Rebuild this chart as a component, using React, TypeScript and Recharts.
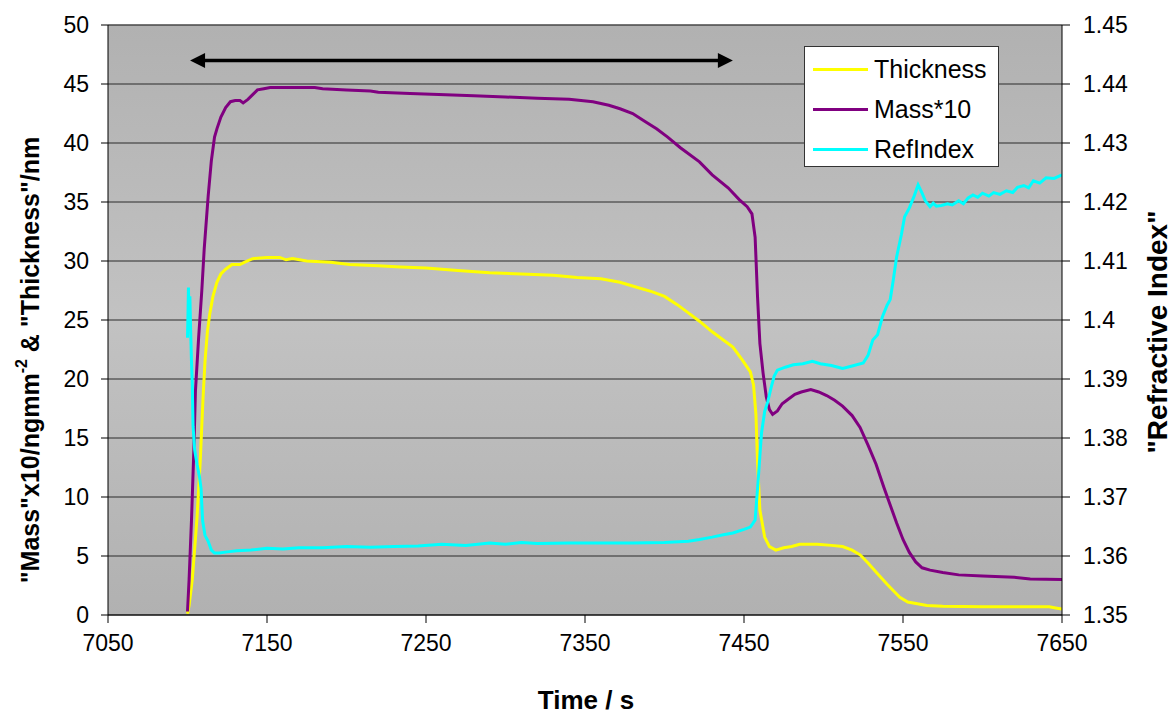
import React from 'react';
import {
  ComposedChart, Line, XAxis, YAxis, CartesianGrid, ReferenceLine,
} from 'recharts';

const FONT = "'Liberation Sans', Arial, sans-serif";

const massTime = [7100, 7101, 7102.5, 7104, 7105, 7107, 7109, 7110.5, 7113, 7115, 7117, 7118.5, 7121, 7124, 7127, 7130, 7133, 7135, 7138, 7141, 7144, 7148, 7152, 7180, 7185, 7200, 7215, 7220, 7240, 7258, 7280, 7300, 7320, 7340, 7355, 7365, 7372, 7380, 7388, 7395, 7402, 7410, 7422, 7430, 7440, 7447, 7452, 7455, 7457, 7458.5, 7460, 7462, 7464, 7466, 7468, 7471, 7474, 7478, 7482, 7486, 7492, 7497, 7502, 7507, 7512, 7518, 7523, 7528, 7533, 7538, 7542, 7546, 7550, 7554, 7558, 7562, 7567, 7575, 7585, 7600, 7620, 7630, 7650];
const massValues = [0.3, 3, 8, 14, 19, 23.5, 27.5, 31, 35.5, 38.5, 40.5, 41.2, 42.2, 43.0, 43.5, 43.6, 43.6, 43.4, 43.7, 44.1, 44.5, 44.6, 44.7, 44.7, 44.6, 44.5, 44.4, 44.3, 44.2, 44.1, 44.0, 43.9, 43.8, 43.7, 43.5, 43.2, 42.9, 42.5, 41.8, 41.2, 40.5, 39.6, 38.4, 37.3, 36.2, 35.2, 34.6, 34.0, 32, 27, 23, 20.5, 18.5, 17.4, 17.0, 17.3, 17.9, 18.3, 18.7, 18.9, 19.1, 18.9, 18.6, 18.2, 17.7, 16.9, 15.9, 14.4, 12.8, 10.8, 9.3, 7.8, 6.4, 5.3, 4.5, 4.0, 3.8, 3.6, 3.4, 3.3, 3.2, 3.05, 3.0];

const thickTime = [7100, 7101, 7103, 7105, 7106, 7108, 7109.7, 7111, 7112.5, 7114, 7116, 7118.5, 7121, 7124, 7128, 7133, 7136, 7141, 7150, 7158, 7162, 7166, 7175, 7190, 7202, 7220, 7234, 7250, 7270, 7290, 7310, 7330, 7345, 7360, 7372, 7382, 7392, 7400, 7408, 7415, 7422, 7430, 7437, 7443, 7449, 7454, 7456, 7457.5, 7458.5, 7460, 7463, 7466, 7470, 7475, 7480, 7485, 7496, 7505, 7512, 7518, 7523, 7528, 7534, 7540, 7548, 7553, 7559, 7565, 7575, 7600, 7642, 7646, 7650];
const thickValues = [0.1, 0.8, 3, 6.5, 8.3, 13, 18.2, 21.5, 24, 25.5, 27, 28.2, 28.9, 29.3, 29.7, 29.7, 29.9, 30.2, 30.3, 30.3, 30.1, 30.2, 30.0, 29.9, 29.7, 29.6, 29.5, 29.4, 29.2, 29.0, 28.9, 28.8, 28.6, 28.5, 28.2, 27.8, 27.4, 27.0, 26.3, 25.6, 24.9, 24.0, 23.3, 22.7, 21.6, 20.6, 19.5, 17, 13, 8.9, 6.6, 5.8, 5.5, 5.7, 5.8, 6.0, 6.0, 5.9, 5.8, 5.5, 5.1, 4.4, 3.5, 2.6, 1.5, 1.1, 0.95, 0.8, 0.75, 0.7, 0.7, 0.6, 0.5];

const refTime = [7100, 7100.3, 7100.6, 7101, 7101.5, 7102, 7102.5, 7103, 7103.5, 7104.5, 7106, 7107.5, 7108.5, 7109.5, 7111, 7113, 7115, 7117, 7120, 7125, 7131, 7140, 7150, 7160, 7170, 7185, 7200, 7215, 7230, 7245, 7260, 7275, 7290, 7300, 7310, 7320, 7340, 7360, 7380, 7400, 7415, 7422, 7430, 7437, 7443, 7450, 7454, 7457, 7458.8, 7460, 7461, 7463, 7465, 7467, 7469, 7471, 7476, 7481, 7487, 7493, 7498, 7505, 7512, 7518, 7525, 7528, 7531, 7534, 7537, 7540, 7542, 7544, 7546, 7549, 7551, 7554, 7557, 7559.5, 7562, 7564, 7567, 7569, 7571, 7574, 7578, 7581, 7585, 7588, 7591, 7594, 7597, 7600, 7604, 7607, 7611, 7615, 7619, 7622, 7626, 7629, 7632, 7636, 7640, 7645, 7650];
const refValues = [1.397, 1.401, 1.4055, 1.399, 1.404, 1.398, 1.393, 1.389, 1.382, 1.378, 1.3755, 1.3735, 1.3715, 1.366, 1.3635, 1.3625, 1.361, 1.3605, 1.3605, 1.3607, 1.3609, 1.361, 1.3613, 1.3612, 1.3614, 1.3614, 1.3616, 1.3615, 1.3616, 1.3617, 1.362, 1.3618, 1.3622, 1.362, 1.3623, 1.3621, 1.3622, 1.3622, 1.3622, 1.3623, 1.3625, 1.3628, 1.3632, 1.3636, 1.3639, 1.3645, 1.3649, 1.3661, 1.3724, 1.377, 1.3808, 1.3845, 1.3862, 1.3885, 1.3905, 1.3915, 1.392, 1.3924, 1.3926, 1.393, 1.3926, 1.3923, 1.3918, 1.3922, 1.3927, 1.394, 1.3966, 1.3975, 1.4005, 1.4025, 1.4035, 1.407, 1.4107, 1.4145, 1.4175, 1.419, 1.421, 1.4229, 1.4215, 1.4202, 1.4192, 1.4198, 1.4193, 1.4194, 1.4197, 1.4195, 1.4202, 1.4197, 1.4207, 1.4212, 1.4208, 1.4215, 1.421, 1.4216, 1.4213, 1.4219, 1.4216, 1.4225, 1.4228, 1.4224, 1.4236, 1.4232, 1.4241, 1.424, 1.4246];

const xTicks = [7050, 7150, 7250, 7350, 7450, 7550, 7650];
const leftTicks = [0, 5, 10, 15, 20, 25, 30, 35, 40, 45, 50];
const rightTicks = [1.35, 1.36, 1.37, 1.38, 1.39, 1.4, 1.41, 1.42, 1.43, 1.44, 1.45];
const arrowStart = { t: 7101.6, v: 47 };
const arrowEnd = { t: 7443, v: 47 };

const seriesNames = ['Thickness', 'Mass*10', 'RefIndex'];
const seriesColors = ['#ffff00', '#800080', '#00ffff'];

const massData = massTime.map((t, i) => ({ t, v: massValues[i] }));
const thickData = thickTime.map((t, i) => ({ t, v: thickValues[i] }));
const refData = refTime.map((t, i) => ({ t, v: refValues[i] }));

const Arrow = (props: any) => {
  const { x1, y1, x2, y2 } = props;
  const L = 15, H = 7.5;
  return (
    <g>
      <line x1={x1 + L - 2} y1={y1} x2={x2 - L + 2} y2={y2} stroke="#000" strokeWidth={3.5} />
      <polygon points={`${x1},${y1} ${x1 + L},${y1 - H} ${x1 + L},${y1 + H}`} fill="#000" />
      <polygon points={`${x2},${y2} ${x2 - L},${y2 - H} ${x2 - L},${y2 + H}`} fill="#000" />
    </g>
  );
};

const LeftTitle = () => (
  <text x={30} y={360} transform="rotate(-90 30 360)" textAnchor="middle" dominantBaseline="central"
    fontWeight="bold" fontSize={25} fill="#000" fontFamily={FONT}>
    "Mass"x10/ngmm<tspan dy={-9} fontSize={16}>-2</tspan><tspan dy={9}> &amp; "Thickness"/nm</tspan>
  </text>
);

const RightTitle = () => (
  <text x={1157} y={332} transform="rotate(-90 1157 332)" textAnchor="middle" dominantBaseline="central"
    fontWeight="bold" fontSize={28} fill="#000" fontFamily={FONT}>
    "Refractive Index"
  </text>
);

const BottomTitle = () => (
  <text x={586} y={709} textAnchor="middle" fontWeight="bold" fontSize={26} fill="#000" fontFamily={FONT}>
    Time / s
  </text>
);

const tickStyle = { fontSize: 23, fill: '#000', fontFamily: FONT };
const fmtRight = (v: number) => String(Number(v.toFixed(2)));

export default function App() {
  return (
    <div style={{ position: 'absolute', left: 0, top: 0, width: 1173, height: 714, background: '#fff', fontFamily: FONT }}>
      <ComposedChart width={1173} height={714} margin={{ top: 25, right: 0, bottom: 0, left: 0 }}>
        <defs>
          <linearGradient id="bgGrad" x1="0" y1="0" x2="0" y2="1">
            <stop offset="0%" stopColor="#b1b1b1" />
            <stop offset="50%" stopColor="#c2c2c2" />
            <stop offset="100%" stopColor="#b1b1b1" />
          </linearGradient>
        </defs>
        <CartesianGrid yAxisId="left" vertical={false} stroke="#2a2a2a" strokeWidth={1} fill="url(#bgGrad)" fillOpacity={1} />
        <XAxis dataKey="t" type="number" domain={[7050, 7650]} ticks={xTicks} height={99}
          tick={tickStyle} tickSize={8} tickMargin={12} stroke="#000" allowDataOverflow
          label={{ content: BottomTitle }} />
        <YAxis yAxisId="left" type="number" domain={[0, 50]} ticks={leftTicks} width={108}
          tick={tickStyle} tickSize={7} tickMargin={12} stroke="#000" allowDataOverflow
          label={{ content: LeftTitle }} />
        <YAxis yAxisId="right" orientation="right" type="number" domain={[1.35, 1.45]} ticks={rightTicks}
          width={111} tick={tickStyle} tickSize={8} tickMargin={13} stroke="#000" allowDataOverflow
          tickFormatter={fmtRight} label={{ content: RightTitle }} />
        <ReferenceLine yAxisId="right" y={1.45} stroke="#555" strokeWidth={1} />
        <Line yAxisId="left" data={thickData} dataKey="v" name={seriesNames[0]} type="linear" stroke={seriesColors[0]}
          strokeWidth={3} dot={false} isAnimationActive={false} />
        <Line yAxisId="left" data={massData} dataKey="v" name={seriesNames[1]} type="linear" stroke={seriesColors[1]}
          strokeWidth={3} dot={false} isAnimationActive={false} />
        <Line yAxisId="right" data={refData} dataKey="v" name={seriesNames[2]} type="linear" stroke={seriesColors[2]}
          strokeWidth={3} dot={false} isAnimationActive={false} />
        <ReferenceLine yAxisId="left" segment={[{ x: arrowStart.t, y: arrowStart.v }, { x: arrowEnd.t, y: arrowEnd.v }]}
          shape={Arrow} ifOverflow="visible" />
      </ComposedChart>
      <div style={{
        position: 'absolute', left: 804, top: 46, width: 195, height: 121, background: '#fff',
        border: '1px solid #333', boxSizing: 'border-box',
      }}>
        {seriesNames.map((name, i) => (
          <div key={name} style={{ position: 'absolute', left: 0, top: 2 + i * 40, height: 40, display: 'flex', alignItems: 'center' }}>
            <div style={{ width: 55, height: 3, background: seriesColors[i], marginLeft: 8 }} />
            <span style={{ marginLeft: 6, fontSize: 25, color: '#000', lineHeight: '40px', whiteSpace: 'nowrap' }}>{name}</span>
          </div>
        ))}
      </div>
    </div>
  );
}
